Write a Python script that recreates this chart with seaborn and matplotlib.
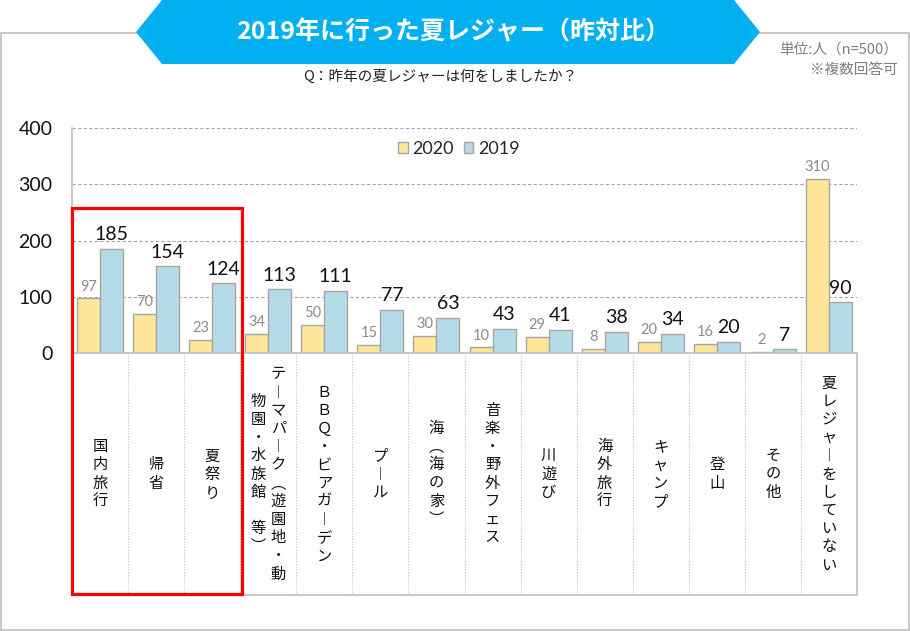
import matplotlib.pyplot as plt
import matplotlib.patches as mpatches
import pandas as pd
import seaborn as sns

sns.set_theme(style="white")
plt.rcParams["font.family"] = ["Noto Sans CJK JP", "DejaVu Sans"]
NUM_FONT = ["Lato", "DejaVu Sans"]

# data
categories = [
    "国内旅行", "帰省", "夏祭り", "テーマパーク（遊園地・動物園・水族館　等）",
    "ＢＢＱ・ビアガーデン", "プール", "海（海の家）", "音楽・野外フェス", "川遊び",
    "海外旅行", "キャンプ", "登山", "その他", "夏レジャーをしていない",
]
# columns of the vertical labels, right to left
label_columns = [
    ["国内旅行"], ["帰省"], ["夏祭り"], ["テーマパーク（遊園地・動", "物園・水族館　等）"],
    ["ＢＢＱ・ビアガーデン"], ["プール"], ["海（海の家）"], ["音楽・野外フェス"], ["川遊び"],
    ["海外旅行"], ["キャンプ"], ["登山"], ["その他"], ["夏レジャーをしていない"],
]
values_2020 = [97, 70, 23, 34, 50, 15, 30, 10, 29, 8, 20, 16, 2, 310]
values_2019 = [185, 154, 124, 113, 111, 77, 63, 43, 41, 38, 34, 20, 7, 90]
years = ["2020", "2019"]
y_ticks = [0, 100, 200, 300, 400]

title = "2019年に行った夏レジャー（昨対比）"
question = "Q：昨年の夏レジャーは何をしましたか？"
unit_lines = ["単位:人（n=500）", "※複数回答可"]

colors = {"2020": "#FFE699", "2019": "#B4DBE7"}
EDGE = "#A6A6A6"
FRAME = "#BFBFBF"

W, H = 910, 631


def fx(x):
    return x / W


def fy(y):
    return 1 - y / H


df = pd.DataFrame({
    "category": categories * 2,
    "year": [years[0]] * len(categories) + [years[1]] * len(categories),
    "value": values_2020 + values_2019,
})

fig = plt.figure(figsize=(W / 100, H / 100), dpi=100)

# outer frame
fig.add_artist(mpatches.Rectangle((fx(0.5), fy(629.5)), fx(908), fy(32.5) - fy(629.5),
                                  transform=fig.transFigure, fill=False,
                                  edgecolor=FRAME, linewidth=1.2, zorder=0))

# title banner
banner = [(136, 32), (162, 0), (734, 0), (760, 32), (734, 64), (162, 64)]
fig.add_artist(mpatches.Polygon([(fx(x), fy(y)) for x, y in banner], closed=True,
                                transform=fig.transFigure, facecolor="#00B0F0",
                                edgecolor="none", zorder=2))
fig.text(fx(453), fy(32), title, color="white", fontsize=18, fontweight="bold",
         ha="center", va="center", zorder=3)
fig.text(fx(440), fy(77), question, color="#222222", fontsize=10.5, ha="center", va="center")
fig.text(fx(898), fy(50), unit_lines[0], color="#7F7F7F", fontsize=10.5, ha="right", va="center")
fig.text(fx(898), fy(70), unit_lines[1], color="#7F7F7F", fontsize=10.5, ha="right", va="center")

# main axes
ax = fig.add_axes([fx(72), fy(353), (857 - 72) / W, (353 - 128) / H])
sns.barplot(data=df, x="category", y="value", hue="year", hue_order=years,
            palette=colors, width=0.82, edgecolor=EDGE, linewidth=1,
            saturation=1, ax=ax)
ax.set_xlim(-0.5, len(categories) - 0.5)
ax.set_ylim(0, 400)
ax.set_yticks(y_ticks)
ax.set_yticklabels([str(t) for t in y_ticks], family=NUM_FONT, fontsize=14, color="#111111")
ax.tick_params(axis="y", length=0, pad=14)
ax.set_xticks([])
ax.set_xlabel("")
ax.set_ylabel("")
for s in ["top", "right"]:
    ax.spines[s].set_visible(False)
for s in ["left", "bottom"]:
    ax.spines[s].set_color(FRAME)
    ax.spines[s].set_linewidth(1.2)
for t in y_ticks[1:]:
    ax.axhline(t, color="#A6A6A6", linestyle=(0, (3, 2)), linewidth=0.8, zorder=0)

ax.bar_label(ax.containers[0], padding=3.5, fontsize=10.5, color="#8C8C8C", family=NUM_FONT)
ax.bar_label(ax.containers[1], padding=4, fontsize=14, color="#111111", family=NUM_FONT)

ax.legend(loc="center", bbox_to_anchor=((459 - 72) / 785, (353 - 149) / 225), ncol=2,
          frameon=False, prop={"family": NUM_FONT, "size": 13}, handlelength=0.5,
          handleheight=0.5, handletextpad=0.25, columnspacing=0.6, borderpad=0)

# category label box
lab = fig.add_axes([fx(72), fy(595), (857 - 72) / W, (595 - 353) / H])
lab.set_xlim(-0.5, len(categories) - 0.5)
lab.set_ylim(595, 353)
lab.set_xticks([])
lab.set_yticks([])
lab.patch.set_alpha(0)
for s in lab.spines.values():
    s.set_color(FRAME)
    s.set_linewidth(1.2)
lab.spines["top"].set_visible(False)
for i in range(len(categories) - 1):
    lab.axvline(i + 0.5, color="#BFBFBF", linestyle=(0, (1, 1.5)), linewidth=0.8)

vertical = str.maketrans({"ー": "︱", "（": "︵", "）": "︶"})
pitch = 18.2
px_per_cat = 785 / len(categories)
for i, cols in enumerate(label_columns):
    n_cols = len(cols)
    for c, text in enumerate(cols):
        dx = ((n_cols - 1) / 2 - c) * 20 / px_per_cat
        chars = text.translate(vertical)
        top = 474 - (len(chars) - 1) / 2 * pitch
        for k, ch in enumerate(chars):
            lab.text(i + dx, top + k * pitch, ch, fontsize=11, color="#111111",
                     ha="center", va="center")

# highlight box
fig.add_artist(mpatches.Rectangle((fx(71.5), fy(593.5)), fx(241.5) - fx(71.5),
                                  fy(207.5) - fy(593.5), transform=fig.transFigure,
                                  fill=False, edgecolor="#FF0000", linewidth=2.3, zorder=5))

fig.savefig("out.png", dpi=100)
